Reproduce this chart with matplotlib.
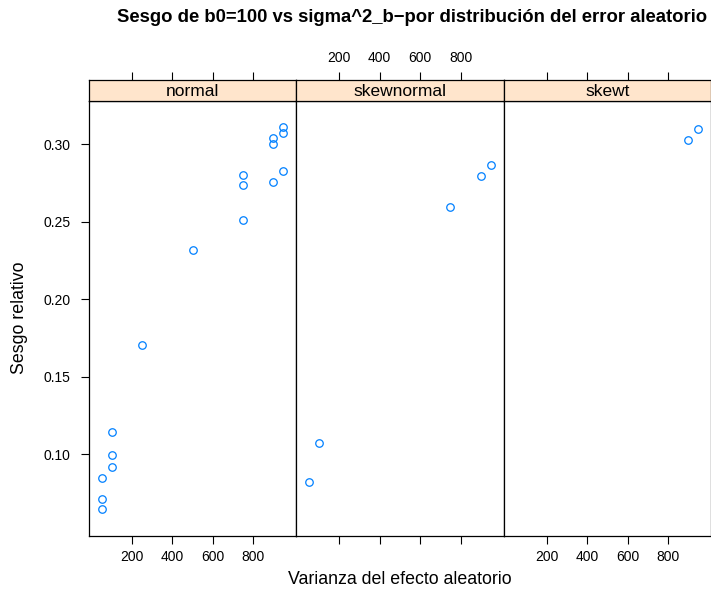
import matplotlib
matplotlib.use("Agg")
import matplotlib.pyplot as plt
import numpy as np

plt.rcParams["font.family"] = ["Liberation Sans", "DejaVu Sans"]

panels = ["normal", "skewnormal", "skewt"]

normal_x = [950, 950, 900, 900, 950, 750, 750, 900, 750, 500, 250, 100, 100, 100, 50, 50, 50]
normal_y = [0.311, 0.3075, 0.304, 0.300, 0.283, 0.280, 0.2736, 0.2755, 0.251, 0.232,
            0.1707, 0.1146, 0.0994, 0.0919, 0.0846, 0.0708, 0.0648]
skewnormal_x = [50, 100, 750, 900, 950]
skewnormal_y = [0.0824, 0.1071, 0.2592, 0.2796, 0.2865]
skewt_x = [900, 950]
skewt_y = [0.3026, 0.3097]

x_ticks = [200, 400, 600, 800]
y_ticks = [0.10, 0.15, 0.20, 0.25, 0.30]

series = {
    "normal": (normal_x, normal_y),
    "skewnormal": (skewnormal_x, skewnormal_y),
    "skewt": (skewt_x, skewt_y),
}

# lattice style limits: data range padded by 7%
all_x = normal_x + skewnormal_x + skewt_x
all_y = normal_y + skewnormal_y + skewt_y
def padded(v):
    lo, hi = min(v), max(v)
    d = (hi - lo) * 0.07
    return lo - d, hi + d
xlim = padded(all_x)
ylim = padded(all_y)

W, H = 711, 600
fig = plt.figure(figsize=(W / 100, H / 100), dpi=100)

left0 = 88.8
pw = 207.4
p_bottom = H - 535.5
p_height = 435
s_height = 21

blue = "#0080ff"
tick_kw = dict(direction="out", length=5.8, width=0.8, labelsize=10)
for i, name in enumerate(panels):
    x0 = left0 + i * pw
    ax = fig.add_axes([x0 / W, p_bottom / H, pw / W, p_height / H])
    xs, ys = series[name]
    ax.plot(xs, ys, linestyle="none", marker="o", markersize=5.4,
            markerfacecolor="none", markeredgecolor=blue, markeredgewidth=0.9)
    ax.set_xlim(xlim)
    ax.set_ylim(ylim)
    ax.set_xticks(x_ticks)
    ax.set_yticks(y_ticks)
    ax.set_yticklabels([f"{v:.2f}" for v in y_ticks])
    ax.tick_params(axis="x", labelbottom=(i != 1), pad=4.7, **tick_kw)
    ax.tick_params(axis="y", pad=7.2, **tick_kw)
    if i != 0:
        ax.tick_params(axis="y", left=False, labelleft=False)
    for sp in ax.spines.values():
        sp.set_linewidth(0.9)

    # strip on top
    st = fig.add_axes([x0 / W, (p_bottom + p_height) / H, pw / W, s_height / H])
    st.set_facecolor("#ffe5cc")
    st.set_xlim(xlim)
    st.set_xticks(x_ticks)
    st.set_yticks([])
    st.tick_params(axis="x", bottom=False, labelbottom=False, top=True,
                   labeltop=(i == 1), pad=4.6, **tick_kw)
    for sp in st.spines.values():
        sp.set_linewidth(0.9)
    st.text(0.5, 0.45, name, transform=st.transAxes, ha="center", va="center",
            fontsize=12.5)

fig.text(412 / W, 1 - 18 / H,
         "Sesgo de b0=100 vs sigma^2_b\u2212por distribución del error aleatorio",
         ha="center", va="center", fontsize=13.3, fontweight="bold")
fig.text(400 / W, 1 - 580 / H, "Varianza del efecto aleatorio",
         ha="center", va="center", fontsize=12.8)
fig.text(20 / W, 1 - 318 / H, "Sesgo relativo", rotation=90,
         ha="center", va="center", fontsize=12.8)

fig.savefig("out.png", dpi=100)
